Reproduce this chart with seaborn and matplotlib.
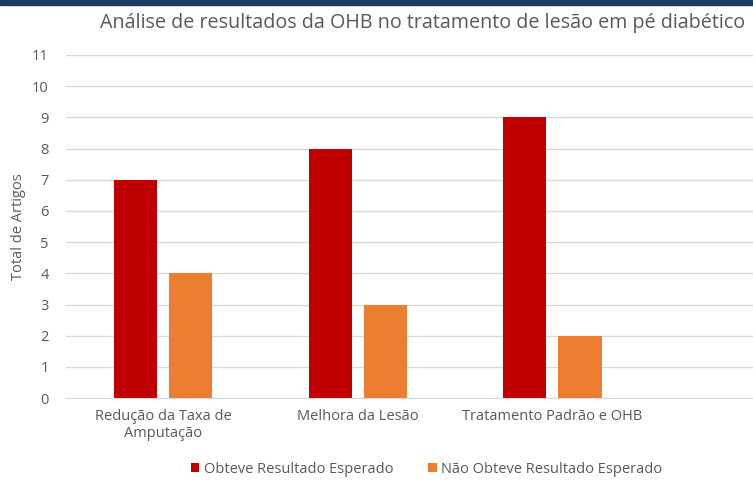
import matplotlib.pyplot as plt
import matplotlib.patches as mpatches
import pandas as pd
import seaborn as sns

sns.set_style('white')
plt.rcParams['font.family'] = ['Open Sans', 'DejaVu Sans']

# data
categories = ['Redução da Taxa de\nAmputação', 'Melhora da Lesão', 'Tratamento Padrão e OHB']
obteve = [7, 8, 9]
nao_obteve = [4, 3, 2]
series = ['Obteve Resultado Esperado', 'Não Obteve Resultado Esperado']
colors = ['#C00000', '#ED7D31']

df = pd.DataFrame({
    'categoria': categories * 2,
    'valor': obteve + nao_obteve,
    'serie': [series[0]] * 3 + [series[1]] * 3,
})

fig = plt.figure(figsize=(7.53, 4.82), dpi=100)
ax = fig.add_axes([0.087, 0.174, 0.913, 0.712])

sns.barplot(data=df, x='categoria', y='valor', hue='serie', palette=colors,
            width=0.567, gap=0.22, ax=ax, legend=True, saturation=1, linewidth=0)

ax.set_ylim(0, 11)
ax.set_yticks(range(0, 12))
ax.set_xlim(-0.5, 3.03)
ax.yaxis.grid(True, color='#d9d9d9', linewidth=1)
ax.set_axisbelow(True)
for s in ['top', 'right', 'left']:
    ax.spines[s].set_visible(False)
ax.spines['bottom'].set_color('#d9d9d9')
ax.tick_params(axis='both', length=0, labelsize=10.5, colors='#595959')
ax.tick_params(axis='y', pad=12)
ax.tick_params(axis='x', pad=8)
ax.set_xlabel('')
ax.set_ylabel('Total de Artigos', fontsize=10.5, color='#595959')
ax.yaxis.set_label_coords(-0.058, 0.5)

ax.legend(loc='center', bbox_to_anchor=(0.525, -0.207), ncol=2, frameon=False,
          fontsize=10.5, handlelength=0.6, handleheight=0.6, columnspacing=2.4,
          handletextpad=0.3, labelcolor='#595959')

fig.text(0.561, 0.953, 'Análise de resultados da OHB no tratamento de lesão em pé diabético',
         ha='center', va='center', fontsize=14.2, color='#595959')

# dark strip along the top edge
fig.patches.append(mpatches.Rectangle((0, 0.99), 1, 0.01, transform=fig.transFigure,
                                      color='#1f3864', zorder=10))

fig.savefig('out.png', dpi=100)
